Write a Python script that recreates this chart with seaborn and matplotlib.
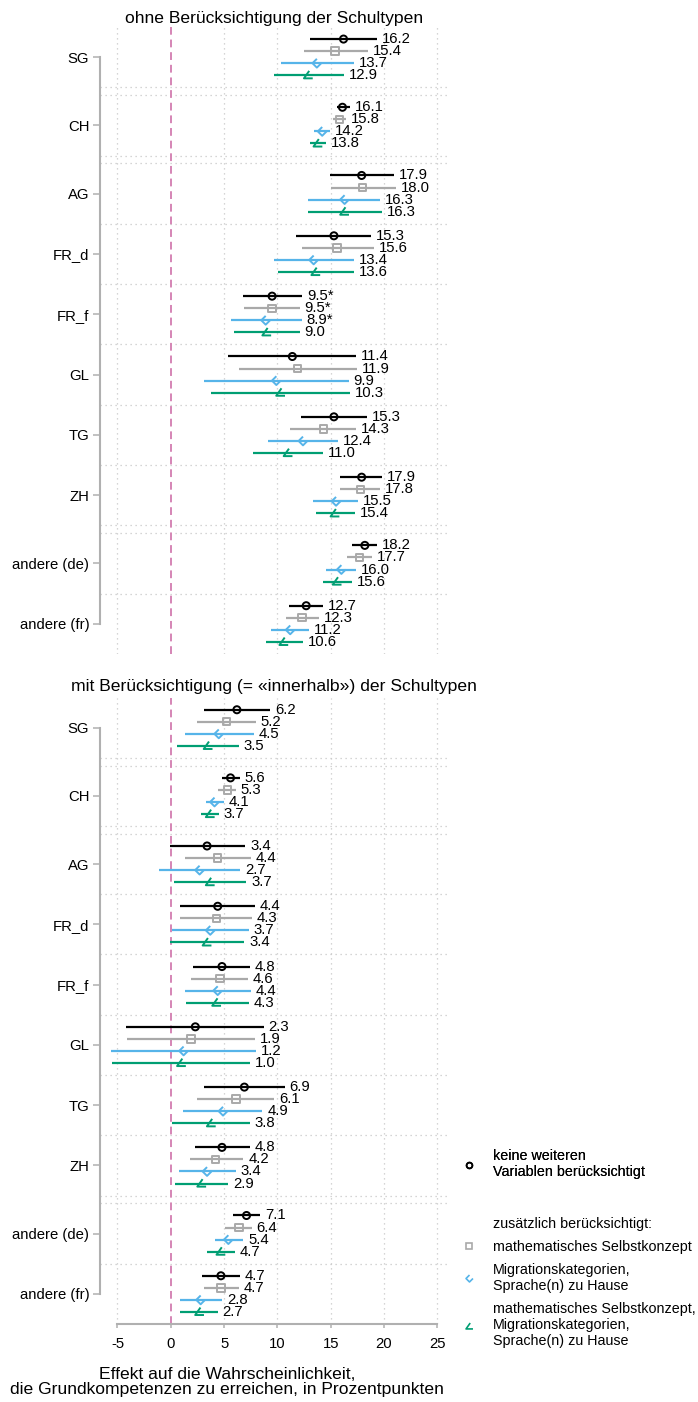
# Regional effects on reaching basic math competences, with and without school types.

import numpy as np
import pandas as pd
import matplotlib
matplotlib.use("Agg")
import matplotlib.pyplot as plt
from matplotlib.path import Path
from matplotlib.lines import Line2D
import seaborn as sns

sns.set_theme(style="white")
plt.rcParams["font.family"] = ["Liberation Sans", "DejaVu Sans"]
plt.rcParams.update({"text.color": "black", "axes.labelcolor": "black",
                     "xtick.color": "black", "ytick.color": "black"})

regions = ["SG", "CH", "AG", "FR_d", "FR_f", "GL", "TG", "ZH", "andere (de)", "andere (fr)"]
models = ["keine", "selbstkonzept", "migration", "beide"]

# rows: keine / Selbstkonzept / Migration / beide ; columns follow regions
ohne_est = [[16.2, 16.1, 17.9, 15.3, 9.5, 11.4, 15.3, 17.9, 18.2, 12.7],
            [15.4, 15.8, 18.0, 15.6, 9.5, 11.9, 14.3, 17.8, 17.7, 12.3],
            [13.7, 14.2, 16.3, 13.4, 8.9, 9.9, 12.4, 15.5, 16.0, 11.2],
            [12.9, 13.8, 16.3, 13.6, 9.0, 10.3, 11.0, 15.4, 15.6, 10.6]]
ohne_lo = [[13.1, 15.6, 14.9, 11.7, 6.8, 5.4, 12.2, 15.9, 17.0, 11.1],
           [12.5, 15.2, 15.0, 12.3, 6.9, 6.4, 11.2, 15.9, 16.5, 10.8],
           [10.3, 13.4, 12.9, 9.7, 5.6, 3.1, 9.1, 13.3, 14.6, 9.4],
           [9.7, 13.1, 12.9, 10.1, 5.9, 3.8, 7.7, 13.6, 14.3, 8.9]]
ohne_hi = [[19.3, 16.8, 20.9, 18.8, 12.3, 17.4, 18.4, 19.8, 19.3, 14.3],
           [18.5, 16.4, 21.1, 19.1, 12.1, 17.5, 17.4, 19.6, 18.9, 13.9],
           [17.2, 14.9, 19.6, 17.2, 12.3, 16.7, 15.7, 17.6, 17.4, 13.0],
           [16.2, 14.6, 19.8, 17.2, 12.1, 16.8, 14.3, 17.3, 17.0, 12.4]]
ohne_star = [("keine", "FR_f"), ("selbstkonzept", "FR_f"), ("migration", "FR_f")]

mit_est = [[6.2, 5.6, 3.4, 4.4, 4.8, 2.3, 6.9, 4.8, 7.1, 4.7],
           [5.2, 5.3, 4.4, 4.3, 4.6, 1.9, 6.1, 4.2, 6.4, 4.7],
           [4.5, 4.1, 2.7, 3.7, 4.4, 1.2, 4.9, 3.4, 5.4, 2.8],
           [3.5, 3.7, 3.7, 3.4, 4.3, 1.0, 3.8, 2.9, 4.7, 2.7]]
mit_lo = [[3.1, 4.8, -0.1, 0.9, 2.1, -4.2, 3.1, 2.3, 5.8, 2.9],
          [2.5, 4.4, 1.3, 0.9, 1.9, -4.1, 2.5, 1.8, 5.1, 3.1],
          [1.3, 3.3, -1.1, 0.1, 1.3, -5.6, 1.1, 0.8, 4.1, 0.9],
          [0.6, 2.8, 0.3, -0.1, 1.4, -5.5, 0.1, 0.4, 3.4, 0.9]]
mit_hi = [[9.3, 6.5, 7.0, 7.9, 7.4, 8.7, 10.7, 7.4, 8.4, 6.5],
          [8.0, 6.1, 7.5, 7.6, 7.2, 7.9, 9.7, 6.8, 7.6, 6.4],
          [7.8, 5.0, 6.5, 7.3, 7.5, 8.0, 8.6, 6.1, 6.8, 4.8],
          [6.4, 4.5, 7.1, 6.9, 7.3, 7.4, 7.4, 5.4, 6.0, 4.4]]
mit_star = []

colors = {"keine": "#000000", "selbstkonzept": "#a9a9a9",
          "migration": "#56b4e9", "beide": "#009e73"}
open_diamond = Path([(0, 1), (-1, 0), (0, -1), (1, 0)])
open_triangle = Path([(0.2, 1), (-1, -0.7), (1, -0.7)])
markers = {"keine": "o", "selbstkonzept": "s", "migration": open_diamond, "beide": open_triangle}
msize = {"keine": 26, "selbstkonzept": 28, "migration": 40, "beide": 40}
offsets = {"keine": -1.5, "selbstkonzept": -0.5, "migration": 0.5, "beide": 1.5}

# layout of the groups (in rows), a bit more room after some groups
wide_after = ["SG", "CH", "ZH"]
centers = []
pos = 2.5
for r in regions:
    centers.append(pos)
    pos += 5 + (0.65 if r in wide_after else 0)
total = centers[-1] + 2.5
ypos = dict(zip(regions, centers))


def build(est, lo, hi, stars):
    rows = []
    for m, model in enumerate(models):
        for g, region in enumerate(regions):
            label = f"{est[m][g]:.1f}" + ("*" if (model, region) in stars else "")
            rows.append(dict(model=model, region=region, est=est[m][g], lo=lo[m][g],
                             hi=hi[m][g], label=label,
                             y=ypos[region] + offsets[model]))
    return pd.DataFrame(rows)


grid_col = "#c8c8c8"
spine_col = "#b0b0b0"


def draw_panel(ax, d, title, title_pad):
    for v in [-5, 5, 10, 15, 20, 25]:
        ax.axvline(v, color=grid_col, ls=(0, (1, 3)), lw=0.9, zorder=0)
    ax.axvline(0, color="#d585b5", ls=(0, (4, 2.5)), lw=1.4, zorder=1)
    seps = set()
    for i in range(len(centers) - 1):
        seps.add(round(centers[i] + 2.5, 3))
        seps.add(round(centers[i + 1] - 2.5, 3))
    for s in seps:
        ax.axhline(s, color=grid_col, ls=(0, (1, 3)), lw=0.9, zorder=0)

    for model in models:
        sub = d[d.model == model]
        ax.hlines(sub.y, sub.lo, sub.hi, color=colors[model], lw=1.6, zorder=2)
        sns.scatterplot(x=sub.est.values, y=sub.y.values, marker=markers[model],
                        s=msize[model], facecolor="none", edgecolor=colors[model],
                        linewidth=1.4, ax=ax, zorder=3, legend=False)
        for _, r in sub.iterrows():
            ax.annotate(r.label, xy=(r.hi, r.y), xytext=(3.5, 0), textcoords="offset points",
                        va="center", ha="left", fontsize=10.7, color="black")

    ax.set_xlim(-6.64, 26.0)
    ax.set_ylim(total, 0)
    ax.set_yticks(centers)
    ax.set_yticklabels(regions, fontsize=10.7)
    ax.set_xlabel("")
    ax.set_ylabel("")
    ax.set_title(title, fontsize=12.6, pad=title_pad)
    sns.despine(ax=ax, top=True, right=True)
    ax.spines["left"].set_bounds(centers[0], centers[-1])
    ax.spines["left"].set_color(spine_col)
    ax.spines["left"].set_linewidth(1.5)
    ax.tick_params(axis="y", left=True, length=5.3, width=1.1, color=spine_col, pad=2.4)


fig = plt.figure(figsize=(6.98, 14.02), dpi=100)
W, H = 698, 1402
ax1 = fig.add_axes([100 / W, 1 - 654 / H, 348 / W, 627 / H])
ax2 = fig.add_axes([100 / W, 1 - 1324 / H, 348 / W, 626.3 / H])

draw_panel(ax1, build(ohne_est, ohne_lo, ohne_hi, ohne_star),
           "ohne Berücksichtigung der Schultypen", 3)
ax1.spines["bottom"].set_visible(False)
ax1.tick_params(axis="x", bottom=False, labelbottom=False)

draw_panel(ax2, build(mit_est, mit_lo, mit_hi, mit_star),
           "mit Berücksichtigung (= «innerhalb») der Schultypen", 5)
ax2.set_xticks([-5, 0, 5, 10, 15, 20, 25])
ax2.set_xticklabels(["-5", "0", "5", "10", "15", "20", "25"], fontsize=10.7)
ax2.spines["bottom"].set_bounds(-5, 25)
ax2.spines["bottom"].set_color(spine_col)
ax2.spines["bottom"].set_linewidth(1.5)
ax2.tick_params(axis="x", bottom=True, length=3.1, width=1.1, color=spine_col, pad=6)

fig.text(227 / W, 1 - 1367 / H,
         "Effekt auf die Wahrscheinlichkeit,\ndie Grundkompetenzen zu erreichen, in Prozentpunkten",
         ha="center", va="top", fontsize=12.6, linespacing=1.0)

# legend
def handle(model, ms):
    return Line2D([], [], ls="none", marker=markers[model], mfc="none",
                  mec=colors[model], ms=ms, mew=1.2)


leg1 = fig.legend(handles=[handle("keine", 4.2)],
                  labels=["keine weiteren\nVariablen berücksichtigt"],
                  loc="upper left", bbox_to_anchor=(462 / W, 1 - 1149 / H),
                  frameon=False, borderpad=0, borderaxespad=0, handlelength=1.0,
                  handletextpad=1.17, fontsize=10.3)
fig.add_artist(leg1)
fig.legend(handles=[Line2D([], [], ls="none"), handle("selbstkonzept", 4.2),
                    handle("migration", 5), handle("beide", 5)],
           labels=["zusätzlich berücksichtigt:", "mathematisches Selbstkonzept",
                   "Migrationskategorien,\nSprache(n) zu Hause",
                   "mathematisches Selbstkonzept,\nMigrationskategorien,\nSprache(n) zu Hause"],
           loc="upper left", bbox_to_anchor=(462 / W, 1 - 1217 / H),
           frameon=False, borderpad=0, borderaxespad=0, handlelength=1.0,
           handletextpad=1.17, labelspacing=0.62, fontsize=10.3)

fig.savefig("out.png", dpi=100)
